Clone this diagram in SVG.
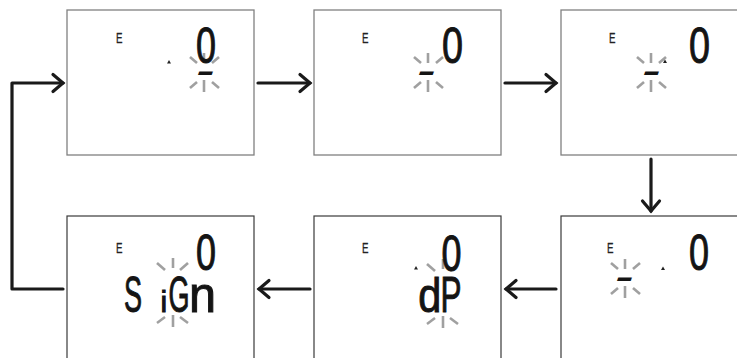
<svg xmlns="http://www.w3.org/2000/svg" xmlns:xlink="http://www.w3.org/1999/xlink" width="737" height="358" viewBox="0 0 737 358">
<style>
.bg{fill:#fff}
.box{fill:#fff;stroke:#808080;stroke-width:1.3}
.box2{fill:#fff;stroke:#3a3a3a;stroke-width:1.2}
.conn{fill:none;stroke:#1a1a1a;stroke-width:3.2;stroke-linecap:round;stroke-linejoin:round}
.ray{stroke:#a0a0a0;stroke-width:2.6}
.seg{font-family:"Liberation Sans",Arial,sans-serif;fill:#141414;stroke:#141414;stroke-width:1}
.big{font-size:50px}
.e{font-family:"Liberation Sans",Arial,sans-serif;font-size:15.5px;fill:#222;stroke:#222;stroke-width:0.3}
.dash{font-family:"Liberation Sans",Arial,sans-serif;font-size:29px;font-weight:bold;font-style:italic;fill:#141414}
.tri{fill:#222}
</style>
<defs>
<marker id="ah" viewBox="-14 -12 17 24" refX="0" refY="0" markerWidth="17" markerHeight="24" markerUnits="userSpaceOnUse" orient="auto">
<path d="M-10,-8.5 L0,0 L-10,8.5" fill="none" stroke="#1a1a1a" stroke-width="3.2" stroke-linecap="round" stroke-linejoin="miter"/>
</marker>
<g id="rays" class="ray">
<line x1="0" y1="-19" x2="0" y2="-9"/>
<line x1="0" y1="8" x2="0" y2="20"/>
<line x1="-14" y1="-15" x2="-7" y2="-9"/>
<line x1="8" y1="-9" x2="15" y2="-15"/>
<line x1="-14" y1="16" x2="-7" y2="10"/>
<line x1="8" y1="10" x2="15" y2="16"/>
</g>
<g id="raysTall" class="ray">
<line x1="0" y1="-34" x2="0" y2="-24"/>
<line x1="0" y1="23" x2="0" y2="35"/>
<line x1="-16" y1="-29" x2="-8" y2="-22"/>
<line x1="7" y1="-22" x2="15" y2="-29"/>
<line x1="-16" y1="31" x2="-8" y2="25"/>
<line x1="7" y1="25" x2="15" y2="31"/>
</g>
</defs>
<rect class="bg" x="0" y="0" width="737" height="358"/>

<g id="screen1">
<rect class="box" x="67" y="10" width="187" height="145"/>
<text class="e" x="116" y="43" textLength="6.5" lengthAdjust="spacingAndGlyphs">E</text>
<use xlink:href="#rays" href="#rays" x="204" y="72"/>
<text class="seg big" x="196" y="63" textLength="20" lengthAdjust="spacingAndGlyphs">0</text>
<polygon class="tri" points="169,60 167,63.5 171,63.5"/>
<text class="dash" x="196.5" y="80.5" textLength="18" lengthAdjust="spacingAndGlyphs">-</text>
</g>

<g id="screen2">
<rect class="box" x="314" y="10" width="187" height="145"/>
<text class="e" x="362" y="43" textLength="6.5" lengthAdjust="spacingAndGlyphs">E</text>
<use xlink:href="#rays" href="#rays" x="428" y="72"/>
<text class="seg big" x="442" y="63" textLength="21" lengthAdjust="spacingAndGlyphs">0</text>
<text class="dash" x="417.5" y="80.5" textLength="18" lengthAdjust="spacingAndGlyphs">-</text>
</g>

<g id="screen3">
<rect class="box" x="561" y="10" width="187" height="145"/>
<text class="e" x="609" y="43" textLength="6.5" lengthAdjust="spacingAndGlyphs">E</text>
<use xlink:href="#rays" href="#rays" x="651" y="72"/>
<text class="seg big" x="689" y="63" textLength="21" lengthAdjust="spacingAndGlyphs">0</text>
<polygon class="tri" points="665,59.5 663,63 667,63"/>
<text class="dash" x="642.5" y="80.5" textLength="18" lengthAdjust="spacingAndGlyphs">-</text>
</g>

<g id="screen4">
<rect class="box2" x="67" y="216" width="187" height="160"/>
<text class="e" x="116" y="252.5" textLength="6.5" lengthAdjust="spacingAndGlyphs">E</text>
<use xlink:href="#raysTall" href="#raysTall" x="173" y="292"/>
<text class="seg big" x="196" y="270" textLength="20" lengthAdjust="spacingAndGlyphs">0</text>
<text class="seg big" x="124" y="312" textLength="18" lengthAdjust="spacingAndGlyphs">S</text>
<text class="seg" x="160.5" y="312" font-size="30">i</text>
<text class="seg big" x="168.5" y="312" textLength="21" lengthAdjust="spacingAndGlyphs">G</text>
<text class="seg big" x="189" y="312" textLength="27" lengthAdjust="spacingAndGlyphs">n</text>
</g>

<g id="screen5">
<rect class="box2" x="314" y="216" width="187" height="160"/>
<text class="e" x="362" y="252.5" textLength="6.5" lengthAdjust="spacingAndGlyphs">E</text>
<use xlink:href="#raysTall" href="#raysTall" x="443" y="293"/>
<text class="seg big" x="441.5" y="271" textLength="20" lengthAdjust="spacingAndGlyphs">0</text>
<polygon class="tri" points="416,266 414,269.5 418,269.5"/>
<text class="seg" x="418.3" y="312" font-size="48" textLength="23" lengthAdjust="spacingAndGlyphs">d</text>
<text class="seg big" x="440.5" y="312" textLength="21" lengthAdjust="spacingAndGlyphs">P</text>
</g>

<g id="screen6">
<rect class="box2" x="561" y="216" width="187" height="160"/>
<text class="e" x="607" y="252.5" textLength="6.5" lengthAdjust="spacingAndGlyphs">E</text>
<use xlink:href="#rays" href="#rays" x="625" y="278"/>
<text class="seg big" x="689" y="270" textLength="20" lengthAdjust="spacingAndGlyphs">0</text>
<polygon class="tri" points="663,266.5 661,270 665,270"/>
<text class="dash" x="615.5" y="286.5" textLength="18" lengthAdjust="spacingAndGlyphs">-</text>
</g>

<g id="connectors">
<line class="conn" x1="258" y1="83" x2="310" y2="83" marker-end="url(#ah)"/>
<line class="conn" x1="505" y1="83" x2="556" y2="83" marker-end="url(#ah)"/>
<line class="conn" x1="651" y1="159" x2="651" y2="211" marker-end="url(#ah)"/>
<line class="conn" x1="556" y1="289" x2="506" y2="289" marker-end="url(#ah)"/>
<line class="conn" x1="310" y1="289" x2="259" y2="289" marker-end="url(#ah)"/>
<path class="conn" d="M63,289 H12 V83 H63" marker-end="url(#ah)"/>
</g>
</svg>
